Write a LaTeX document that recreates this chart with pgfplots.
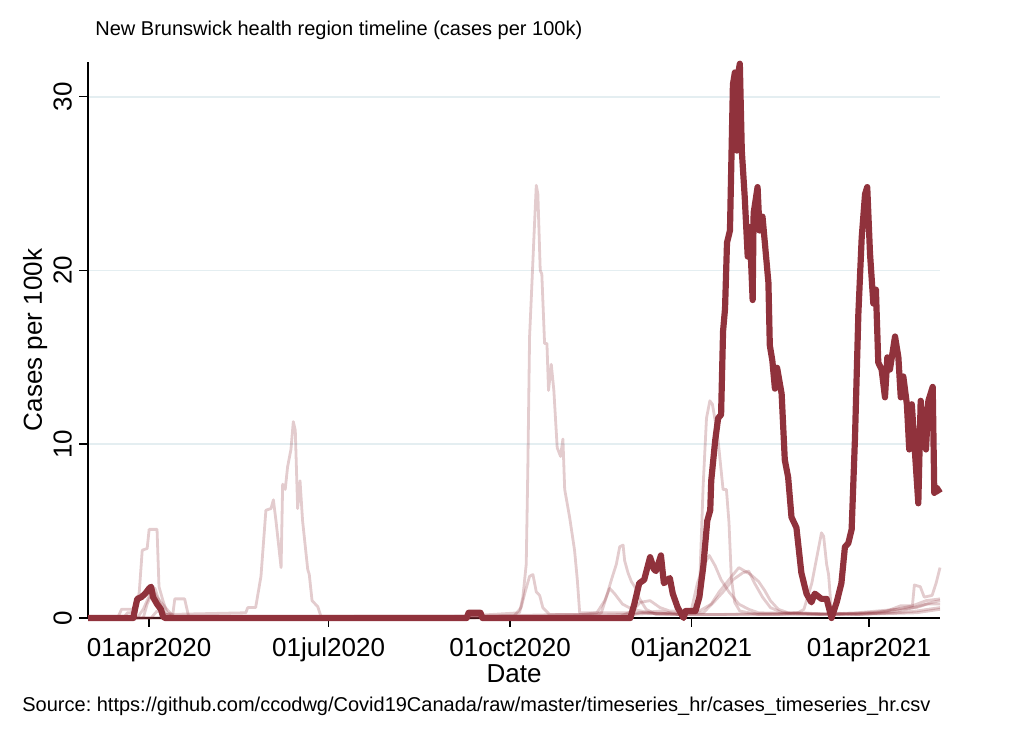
\documentclass[border=0pt]{standalone}
\usepackage{pgfplots}
\pgfplotsset{compat=1.18}
\usepackage{fontspec}
\setmainfont{Liberation Sans}
\definecolor{nbred}{RGB}{144,50,60}
\definecolor{gridc}{RGB}{228,238,241}
\frenchspacing

% x = days since 01jan2020 (91 = 01apr2020, 456 = 01apr2021)
\pgfplotsset{
  faint/.style={nbred, opacity=0.25, line width=1.4pt, line join=round},
  mainline/.style={nbred, line width=3.1pt, line join=round},
}

\begin{document}
\begin{tikzpicture}
\path[use as bounding box] (0,0) rectangle (506.5pt,368.5pt);
\begin{axis}[
    at={(44pt,59.5pt)}, anchor=south west,
    scale only axis, width=426pt, height=278pt,
    xmin=60, xmax=492, ymin=0, ymax=32,
    clip=false,
    axis x line*=bottom, axis y line*=left,
    axis line style={black, line width=0.75pt, -},
    tick style={black, line width=0.75pt},
    tick align=outside, major tick length=4.5pt,
    xtick={91,182,274,366,456},
    xticklabels={01apr2020,01jul2020,01oct2020,01jan2021,01apr2021},
    ytick={0,10,20,30},
    yticklabels={0,10,20,30},
    ymajorgrids,
    major grid style={gridc, line width=0.8pt},
    tick label style={font=\fontsize{13}{15}\selectfont},
    xticklabel style={yshift=-2pt},
    yticklabel style={rotate=90, anchor=south},
    xlabel={Date},
    ylabel={Cases per 100k},
    label style={font=\fontsize{13}{15}\selectfont},
    xlabel style={at={(axis description cs:0.5,-0.1)}, anchor=center},
    ylabel style={at={(axis description cs:-0.062,0.5)}, anchor=center},
  ]
% other health regions (faint)
\addplot[faint] coordinates {(60,0) (78,0) (80,0.3) (84,0.3) (86,1.5) (87.5,3.9) (90,4.0) (91,5.1) (95,5.1) (96,1.8) (98,1.0) (100,0.3) (103,0.2) (104,1.1) (109,1.1) (111,0.1) (140,0) (200,0.1) (250,0.1) (300,0.1) (330,0.2) (360,0.3) (368,0.5) (370,1.5) (371.9,7.6) (373.6,11.5) (375.3,12.5) (376.6,12.3) (377.8,11.5) (379.5,10.2) (382,7.4) (383.7,7.4) (385,5.5) (386.2,2.3) (387.9,0.9) (390.5,0.4) (400,0.2) (430,0.2) (460,0.3) (470,0.5) (478,0.7) (485,1.0) (492,1.1)};
\addplot[faint] coordinates {(60,0) (85,0) (88,0.5) (92,1.5) (94,1.7) (96,1.0) (99,0.2) (140,0.3) (141,0.6) (145,0.6) (147.7,2.4) (150.2,6.2) (152.8,6.3) (154,6.8) (155.3,5.6) (157.9,2.9) (158.7,7.7) (160,7.4) (161.2,8.7) (162.9,9.7) (164.1,11.3) (165.1,10.8) (166.3,6.3) (167.5,7.9) (168.8,5.6) (171.4,2.8) (172.2,2.5) (173.6,1.0) (176.5,0.65) (178.1,0.1) (220,0.1) (260,0.1) (300,0.2) (318,0.2) (320.3,0.3) (322.8,1.2) (325.4,2.2) (327.9,3.1) (329.6,4.1) (331.3,4.2) (332.1,3.3) (333.8,2.6) (335.5,2.1) (337.2,1.8) (339.7,1.1) (343,0.5) (348,0.2) (380,0.2) (420,0.3) (440,0.2) (455,0.3) (465,0.4) (472,0.7) (478,0.7) (479,1.9) (482,1.8) (484,1.2) (488,1.3) (490,2.0) (492,2.9)};
\addplot[faint] coordinates {(60,0) (75,0) (77,0.5) (82,0.5) (84,0) (150,0) (200,0) (250,0.1) (278.8,0.3) (280.5,1.2) (282.2,3.1) (283,8.5) (283.9,16.2) (284.8,18.5) (286.1,21.9) (287.3,24.9) (288.1,24.4) (289.3,20.0) (290.1,19.8) (291.5,15.8) (292.7,15.8) (293.5,13.1) (294.9,14.6) (296.2,13.1) (297.9,9.8) (299.6,9.3) (300.8,10.3) (301.7,7.4) (304.2,5.8) (306.7,3.9) (308.1,2.2) (309.3,0.3) (320,0.3) (340,0.3) (360,0.2) (390,0.2) (410,0.2) (420,0.3) (423,0.5) (427,2.0) (431.9,4.9) (433,4.7) (434.5,3.1) (435.5,2.5) (437,0.3) (450,0.2) (465,0.3) (475,0.5) (485,0.8) (492,0.8)};
\addplot[faint] coordinates {(60,0) (88,0) (90,0.8) (93,1.6) (95,1.2) (97,0.9) (100,0.5) (104,0) (200,0) (276,0.1) (279.6,0.6) (281.4,1.4) (283.9,2.4) (285.6,2.5) (287.3,1.5) (289,1.3) (290.6,0.6) (294,0.2) (310,0.2) (318,0.3) (322,1.0) (324.5,1.7) (327,1.4) (331,0.8) (336,0.5) (345,0.3) (362,0.2) (366,0.5) (369,2.0) (372,3.0) (375,3.6) (378,3.0) (381,2.2) (385,1.5) (390,0.8) (395,0.5) (400,0.3) (440,0.2) (470,0.3) (480,0.4) (492,0.6)};
\addplot[faint] coordinates {(60,0) (92,0) (95,0.4) (100,0.2) (105,0) (250,0) (330,0.1) (336,0.4) (340,0.9) (345,1.0) (350,0.6) (355,0.4) (370,0.4) (376,0.8) (380,1.5) (385,2.2) (390,2.9) (393,2.7) (396,2.5) (400,2.1) (403,1.6) (406,1.0) (410,0.5) (415,0.3) (430,0.2) (450,0.3) (470,0.5) (480,0.6) (488,0.9) (492,1.0)};
\addplot[faint] coordinates {(60,0) (330,0) (340,0.3) (350,0.4) (360,0.2) (372,0.3) (378,1.0) (382,1.5) (387,2.2) (392,2.6) (395,2.7) (398,2.0) (402,1.2) (406,0.6) (412,0.3) (450,0.2) (480,0.3) (492,0.5)};
% highlighted region
\addplot[mainline] coordinates {(60,0) (83,0) (84,0.6) (85,1.1) (87,1.2) (89,1.4) (91,1.7) (92,1.8) (93,1.2) (94,1.0) (95,0.8) (97,0.5) (98,0.1) (99,0) (252,0) (253,0.3) (259,0.3) (260,0) (335,0) (337,0.8) (339.5,2.0) (342,2.2) (345,3.5) (347,2.8) (348,2.7) (350.5,3.6) (352,2.0) (355,2.3) (356.5,1.4) (359,0.6) (362,0) (363,0.4) (368,0.4) (370,1.2) (372,3.0) (374,5.6) (375.5,6.2) (376,7.9) (378,10.2) (379.5,11.5) (381,11.7) (382,16.5) (383,17.8) (384,21.6) (385.5,22.3) (387,30.7) (388,31.4) (389,26.9) (389.5,31.2) (390.5,31.9) (391.5,26.9) (393,24.2) (394.5,20.8) (395.5,22.5) (397,18.3) (397.5,23.3) (399.5,24.8) (400.5,22.3) (402,23.1) (405,19.3) (405.7,15.7) (407,14.8) (408.3,13.2) (409.4,14.4) (411.7,12.9) (413.3,9.1) (415,8.1) (416.7,5.8) (419.2,5.2) (421.7,2.6) (424.3,1.4) (426.8,0.9) (428.5,1.4) (431.9,1.1) (434.5,1.1) (437,0) (439.6,0.9) (442,2.0) (443.8,4.1) (445.5,4.3) (447.2,5.1) (448.9,10.4) (450.6,17.5) (452.3,21.9) (454,24.4) (455.1,24.8) (456.5,21) (458.2,18.1) (459.5,18.9) (460.7,14.7) (462.4,14.3) (464.1,12.7) (465.3,15) (466.6,14.3) (469.2,16.2) (470.9,15) (472.1,12.7) (473.4,13.9) (475.2,12.3) (476.4,9.7) (477.7,12.3) (481,6.6) (482.2,12.5) (483.5,11.2) (484.9,9.7) (486.1,12.5) (488.3,13.3) (489.1,7.2) (490.3,7.5) (492,7.2)};
\end{axis}
\node[anchor=west, inner sep=0pt, font=\fontsize{10}{12}\selectfont] at (47.5pt,353.5pt) {New Brunswick health region timeline (cases per 100k)};
\node[anchor=west, inner sep=0pt, font=\fontsize{10}{12}\selectfont] at (11pt,15.5pt) {Source: https://github.com/ccodwg/Covid19Canada/raw/master/timeseries\_hr/cases\_timeseries\_hr.csv};
\end{tikzpicture}
\end{document}
